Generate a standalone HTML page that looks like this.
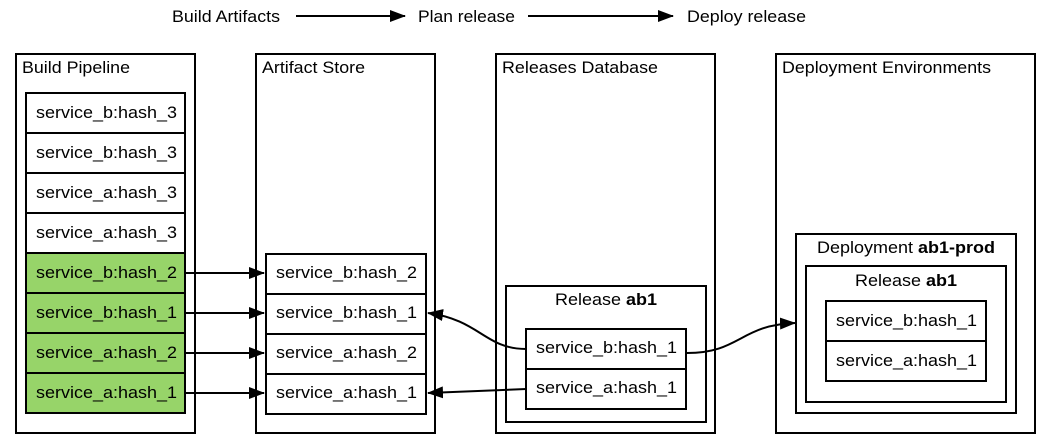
<!DOCTYPE html>
<html><head><style>html,body{margin:0;padding:0;background:#fff}svg{display:block}text{font-family:"Liberation Sans",sans-serif;font-size:17px;fill:#000}</style></head>
<body>
<svg width="1046" height="445" viewBox="0 0 1046 445" xmlns="http://www.w3.org/2000/svg">
<defs><marker id="a" markerWidth="16" markerHeight="12" refX="15" refY="6" orient="auto" markerUnits="userSpaceOnUse"><path d="M0,0 L16,6 L0,12 Z" fill="#000"/></marker></defs>
<g fill="none" stroke="#000" stroke-width="2">
<line x1="296" y1="16" x2="405" y2="16" marker-end="url(#a)"/>
<line x1="528" y1="16" x2="673" y2="16" marker-end="url(#a)"/>
<rect x="16" y="54" width="179" height="379"/>
<rect x="256" y="54" width="179" height="379"/>
<rect x="496" y="54" width="219" height="379"/>
<rect x="776" y="54" width="259" height="379"/>
</g>
<text x="172" y="22" textLength="108" lengthAdjust="spacingAndGlyphs">Build Artifacts</text>
<text x="418" y="22" textLength="97" lengthAdjust="spacingAndGlyphs">Plan release</text>
<text x="687" y="22" textLength="119" lengthAdjust="spacingAndGlyphs">Deploy release</text>
<text x="22" y="73" textLength="108" lengthAdjust="spacingAndGlyphs">Build Pipeline</text>
<text x="262" y="73" textLength="103" lengthAdjust="spacingAndGlyphs">Artifact Store</text>
<text x="502" y="73" textLength="156" lengthAdjust="spacingAndGlyphs">Releases Database</text>
<text x="782" y="73" textLength="209" lengthAdjust="spacingAndGlyphs">Deployment Environments</text>
<g stroke="#000" stroke-width="2">
<rect x="26" y="93" width="159" height="40" fill="#fff"/>
<rect x="26" y="133" width="159" height="40" fill="#fff"/>
<rect x="26" y="173" width="159" height="40" fill="#fff"/>
<rect x="26" y="213" width="159" height="40" fill="#fff"/>
<rect x="26" y="253" width="159" height="40" fill="#97d469"/>
<rect x="26" y="293" width="159" height="40" fill="#97d469"/>
<rect x="26" y="333" width="159" height="40" fill="#97d469"/>
<rect x="26" y="373" width="159" height="40" fill="#97d469"/>
<rect x="266" y="254" width="160" height="40" fill="#fff"/>
<rect x="266" y="294" width="160" height="40" fill="#fff"/>
<rect x="266" y="334" width="160" height="40" fill="#fff"/>
<rect x="266" y="374" width="160" height="40" fill="#fff"/>
<rect x="506" y="286" width="200" height="136" fill="none"/>
<rect x="526" y="329" width="160" height="40" fill="#fff"/>
<rect x="526" y="369" width="160" height="40" fill="#fff"/>
<rect x="796" y="234" width="220" height="179" fill="none"/>
<rect x="806" y="266" width="200" height="136" fill="none"/>
<rect x="826" y="301" width="160" height="40" fill="#fff"/>
<rect x="826" y="341" width="160" height="40" fill="#fff"/>
</g>
<g>
<text x="36" y="118" textLength="141" lengthAdjust="spacingAndGlyphs">service_b:hash_3</text>
<text x="36" y="158" textLength="141" lengthAdjust="spacingAndGlyphs">service_b:hash_3</text>
<text x="36" y="198" textLength="141" lengthAdjust="spacingAndGlyphs">service_a:hash_3</text>
<text x="36" y="238" textLength="141" lengthAdjust="spacingAndGlyphs">service_a:hash_3</text>
<text x="36" y="278" textLength="141" lengthAdjust="spacingAndGlyphs">service_b:hash_2</text>
<text x="36" y="318" textLength="141" lengthAdjust="spacingAndGlyphs">service_b:hash_1</text>
<text x="36" y="358" textLength="141" lengthAdjust="spacingAndGlyphs">service_a:hash_2</text>
<text x="36" y="398" textLength="141" lengthAdjust="spacingAndGlyphs">service_a:hash_1</text>
<text x="276" y="278" textLength="141" lengthAdjust="spacingAndGlyphs">service_b:hash_2</text>
<text x="276" y="318" textLength="141" lengthAdjust="spacingAndGlyphs">service_b:hash_1</text>
<text x="276" y="358" textLength="141" lengthAdjust="spacingAndGlyphs">service_a:hash_2</text>
<text x="276" y="398" textLength="141" lengthAdjust="spacingAndGlyphs">service_a:hash_1</text>
<text x="555" y="305" textLength="102" lengthAdjust="spacingAndGlyphs">Release <tspan font-weight="bold">ab1</tspan></text>
<text x="536" y="353" textLength="141" lengthAdjust="spacingAndGlyphs">service_b:hash_1</text>
<text x="536" y="393" textLength="141" lengthAdjust="spacingAndGlyphs">service_a:hash_1</text>
<text x="817" y="253" textLength="178" lengthAdjust="spacingAndGlyphs">Deployment <tspan font-weight="bold">ab1-prod</tspan></text>
<text x="855" y="286" textLength="102" lengthAdjust="spacingAndGlyphs">Release <tspan font-weight="bold">ab1</tspan></text>
<text x="836" y="326" textLength="141" lengthAdjust="spacingAndGlyphs">service_b:hash_1</text>
<text x="836" y="366" textLength="141" lengthAdjust="spacingAndGlyphs">service_a:hash_1</text>
</g>
<g fill="none" stroke="#000" stroke-width="2">
<line x1="186" y1="273" x2="264" y2="273" marker-end="url(#a)"/>
<line x1="186" y1="313" x2="264" y2="313" marker-end="url(#a)"/>
<line x1="186" y1="353" x2="264" y2="353" marker-end="url(#a)"/>
<line x1="186" y1="393" x2="264" y2="393" marker-end="url(#a)"/>
<path d="M526,349 C485,349 480,320 428,313" marker-end="url(#a)"/>
<path d="M526,389 L428,393" marker-end="url(#a)"/>
<path d="M687,353 C740,353 740,325 795,323" marker-end="url(#a)"/>
</g>
</svg>
</body></html>
